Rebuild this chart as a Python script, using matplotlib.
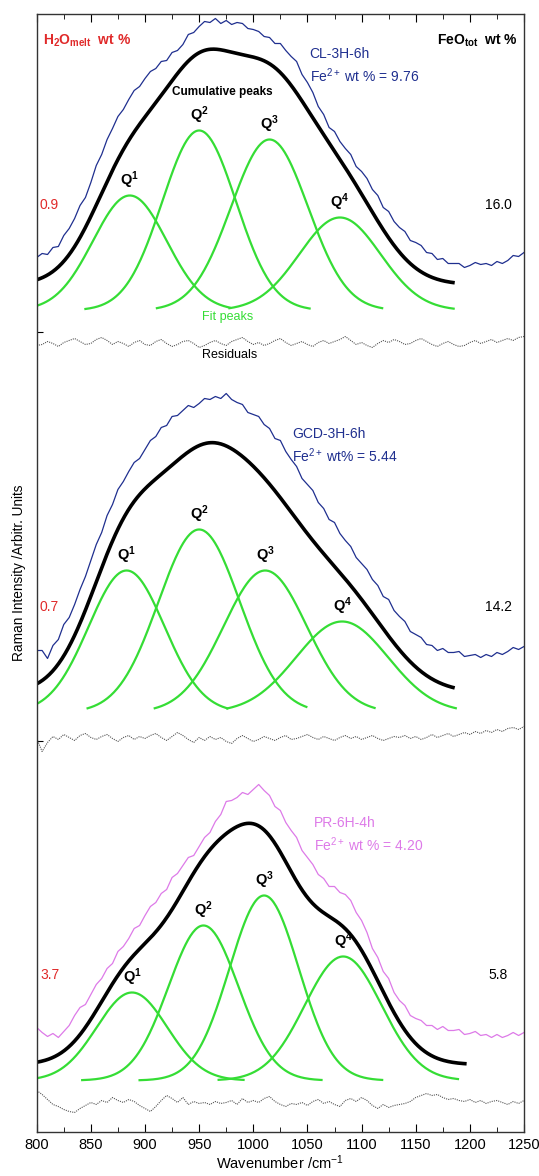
import numpy as np
import matplotlib
matplotlib.use("Agg")
import matplotlib.pyplot as plt
from matplotlib.ticker import MultipleLocator, NullFormatter

plt.rcParams["font.family"] = ["Liberation Sans", "DejaVu Sans"]
plt.rcParams["mathtext.fontset"] = "custom"
plt.rcParams["mathtext.rm"] = "Liberation Sans"
plt.rcParams["mathtext.it"] = "Liberation Sans:italic"
plt.rcParams["mathtext.bf"] = "Liberation Sans:bold"

# grid of measured spectra / residuals (cm-1)
wn = np.arange(800, 1251, 5)

samples = ["CL-3H-6h", "GCD-3H-6h", "PR-6H-4h"]
fe2_text = [r"Fe$^{2+}$ wt % = 9.76", r"Fe$^{2+}$ wt% = 5.44", r"Fe$^{2+}$ wt % = 4.20"]
h2o_melt = ["0.9", "0.7", "3.7"]
feo_tot = ["16.0", "14.2", "5.8"]
spec_colors = ["#1f2f8f", "#1f2f8f", "#dd7ae8"]

# measured spectra (height above fit baseline, arbitr. units)
spec_1 = [53, 57, 56, 63, 64, 75, 82, 92, 105, 113,
          128, 145, 156, 171, 182, 194, 201, 211, 220, 224,
          232, 239, 242, 249, 250, 258, 260, 266, 276, 278,
          284, 289, 288, 292, 287, 290, 286, 288, 287, 282,
          281, 279, 274, 273, 267, 267, 260, 254, 249, 236,
          228, 218, 204, 196, 183, 179, 169, 162, 156, 144,
          139, 132, 121, 115, 103, 99, 89, 83, 79, 70,
          68, 65, 58, 57, 51, 52, 47, 47, 47, 43,
          45, 48, 46, 47, 45, 49, 47, 50, 55, 54, 58]
spec_2 = [62, 62, 54, 67, 73, 88, 95, 108, 123, 136,
          152, 168, 180, 197, 208, 223, 231, 241, 250, 254,
          263, 272, 276, 285, 287, 296, 297, 302, 307, 305,
          309, 314, 313, 316, 314, 319, 313, 310, 308, 300,
          298, 296, 288, 284, 274, 272, 261, 253, 246, 234,
          228, 222, 210, 204, 193, 190, 179, 172, 166, 155,
          149, 143, 133, 127, 116, 113, 102, 96, 91, 81,
          78, 75, 68, 67, 62, 64, 60, 60, 61, 56,
          57, 58, 55, 58, 56, 60, 58, 61, 65, 63, 66]
spec_3 = [53, 48, 44, 47, 43, 49, 55, 65, 73, 76,
          86, 96, 102, 112, 117, 129, 134, 142, 152, 155,
          165, 174, 178, 187, 191, 203, 207, 215, 223, 225,
          234, 243, 248, 259, 266, 279, 280, 283, 288, 286,
          291, 296, 290, 285, 274, 270, 258, 250, 243, 230,
          223, 216, 206, 202, 194, 194, 188, 186, 180, 168,
          160, 148, 132, 123, 109, 102, 88, 80, 75, 65,
          62, 60, 55, 55, 51, 54, 50, 50, 51, 46,
          47, 49, 45, 46, 43, 46, 43, 45, 48, 45, 48]

# residuals of the fits
resid_1 = [-35, -34, -31, -33, -36, -32, -30, -28, -31, -34,
           -33, -29, -27, -30, -34, -31, -33, -36, -32, -30,
           -34, -35, -31, -29, -33, -36, -34, -31, -30, -33,
           -37, -35, -32, -30, -33, -35, -31, -29, -27, -31,
           -34, -32, -35, -33, -30, -28, -32, -35, -33, -31,
           -34, -36, -32, -30, -33, -31, -29, -26, -30, -34,
           -32, -35, -37, -33, -30, -32, -29, -31, -34, -33,
           -30, -28, -31, -34, -36, -33, -31, -34, -36, -35,
           -32, -30, -33, -31, -29, -32, -30, -28, -30, -27, -26]
resid_2 = [-26, -39, -30, -24, -27, -22, -25, -28, -23, -21,
           -25, -27, -24, -22, -26, -29, -25, -23, -27, -24,
           -26, -23, -21, -25, -28, -24, -20, -23, -27, -30,
           -25, -28, -24, -27, -25, -29, -31, -26, -23, -26,
           -29, -27, -24, -26, -28, -25, -23, -27, -26, -24,
           -22, -25, -27, -24, -26, -28, -25, -23, -26, -24,
           -27, -25, -23, -26, -28, -26, -24, -25, -23, -26,
           -24, -27, -25, -22, -25, -23, -21, -24, -22, -20,
           -22, -19, -21, -18, -20, -17, -19, -16, -15, -17, -14]
resid_3 = [-10, -14, -19, -24, -26, -29, -31, -32, -28, -25,
           -22, -24, -20, -22, -17, -20, -22, -19, -21, -25,
           -28, -31, -26, -20, -15, -18, -22, -17, -24, -21,
           -23, -22, -24, -21, -23, -22, -20, -24, -18, -22,
           -20, -22, -18, -16, -21, -24, -26, -23, -24, -22,
           -25, -21, -19, -23, -21, -24, -26, -20, -18, -21,
           -17, -20, -25, -28, -24, -27, -25, -24, -23, -21,
           -17, -15, -13, -15, -14, -17, -19, -18, -20, -21,
           -19, -22, -20, -23, -21, -20, -22, -24, -21, -23, -20]

# Gaussian fit of the Q species: centre, height, sigma, drawn range
q_center = [[886, 950, 1015, 1080], [883, 950, 1011, 1082], [888, 954, 1010, 1083]]
q_height = [[115, 180, 171, 93], [142, 183, 142, 91], [88, 155, 185, 124]]
q_sigma = [[34, 34, 35.5, 37.5], [35, 37.5, 38.5, 42.5], [32.5, 32.3, 32, 35.5]]
q_start = [[800, 845, 911, 978], [800, 847, 909, 976], [800, 842, 895, 968]]
q_end = [[978, 1052, 1119, 1185], [976, 1049, 1112, 1187], [991, 1063, 1119, 1189]]
cum_background = [26, 20, 16]
cum_end = [1186, 1186, 1197]

spectra = [spec_1, spec_2, spec_3]
residuals = [resid_1, resid_2, resid_3]
offsets = [822, 420, 52]

green = "#35dd35"
red = "#e02a2a"

fig = plt.figure(figsize=(5.39, 11.76), dpi=100)
ax = fig.add_axes([0.0681, 0.037, 0.9041, 0.9511])


def gauss(x, c, h, s):
    return h * np.exp(-(x - c) ** 2 / (2 * s ** 2))


for i in range(3):
    off = offsets[i]
    ax.plot(wn, off + np.array(spectra[i]), color=spec_colors[i], lw=0.9)
    ax.plot(wn, off + np.array(residuals[i]), color="#555555", lw=0.8,
            ls=(0, (1, 1)))

    xc = np.linspace(800, cum_end[i], 400)
    total = np.full_like(xc, cum_background[i], dtype=float)
    for c, h, s in zip(q_center[i], q_height[i], q_sigma[i]):
        total += gauss(xc, c, h, s)
    ax.plot(xc, off + total, color="black", lw=2.6, solid_capstyle="butt")

    for k in range(4):
        c, h, s = q_center[i][k], q_height[i][k], q_sigma[i][k]
        xg = np.linspace(q_start[i][k], q_end[i][k], 200)
        ax.plot(xg, off + gauss(xg, c, h, s), color=green, lw=1.6)
        ax.annotate(r"$\mathbf{Q^{%d}}$" % (k + 1), xy=(c, off + h),
                    xytext=(0, 3), textcoords="offset points",
                    ha="center", va="bottom", fontsize=10.5)

    ax.text(803, off + 105, h2o_melt[i], color=red, fontsize=10,
            ha="left", va="center")
    ax.text(1226, off + 105, feo_tot[i], color="black", fontsize=10,
            ha="center", va="center")

# sample names
name_pos = [(1052, 1078), (1036, 698), (1056, 309)]
for i in range(3):
    x0, y0 = name_pos[i]
    ax.text(x0, y0, samples[i], color=spec_colors[i], fontsize=10,
            ha="left", va="center")
    ax.text(x0, y0 - 21, fe2_text[i], color=spec_colors[i], fontsize=10,
            ha="left", va="center")

ax.text(806, 1092, r"$\mathbf{H_2O_{melt}}$  wt %", color=red, fontsize=10,
        fontweight="bold", ha="left", va="center")
ax.text(1244, 1092, r"$\mathbf{FeO_{tot}}$  wt %", color="black", fontsize=10,
        fontweight="bold", ha="right", va="center")
ax.text(925, 1040, "Cumulative peaks", fontsize=8.5, fontweight="bold",
        ha="left", va="center")
ax.text(976, 815, "Fit peaks", color=green, fontsize=9, ha="center",
        va="center")
ax.text(978, 777, "Residuals", color="black", fontsize=9, ha="center",
        va="center")

ax.set_xlim(800, 1250)
ax.set_ylim(0, 1118.5)
ax.xaxis.set_major_locator(MultipleLocator(50))
ax.xaxis.set_minor_locator(MultipleLocator(25))
ax.set_yticks([391, 800])
ax.yaxis.set_major_formatter(NullFormatter())
ax.tick_params(axis="x", which="both", direction="in", top=True,
               labelsize=10.5, pad=4)
ax.tick_params(axis="x", which="major", length=6)
ax.tick_params(axis="x", which="minor", length=3.5)
ax.tick_params(axis="y", direction="in", length=4)
for sp in ax.spines.values():
    sp.set_linewidth(1.0)
    sp.set_color("#333333")

ax.set_xlabel(r"Wavenumber /cm$^{-1}$", fontsize=10.5, labelpad=1)
ax.set_ylabel("Raman Intensity /Arbitr. Units", fontsize=9.8, labelpad=4)

fig.savefig("out.png", dpi=100)
